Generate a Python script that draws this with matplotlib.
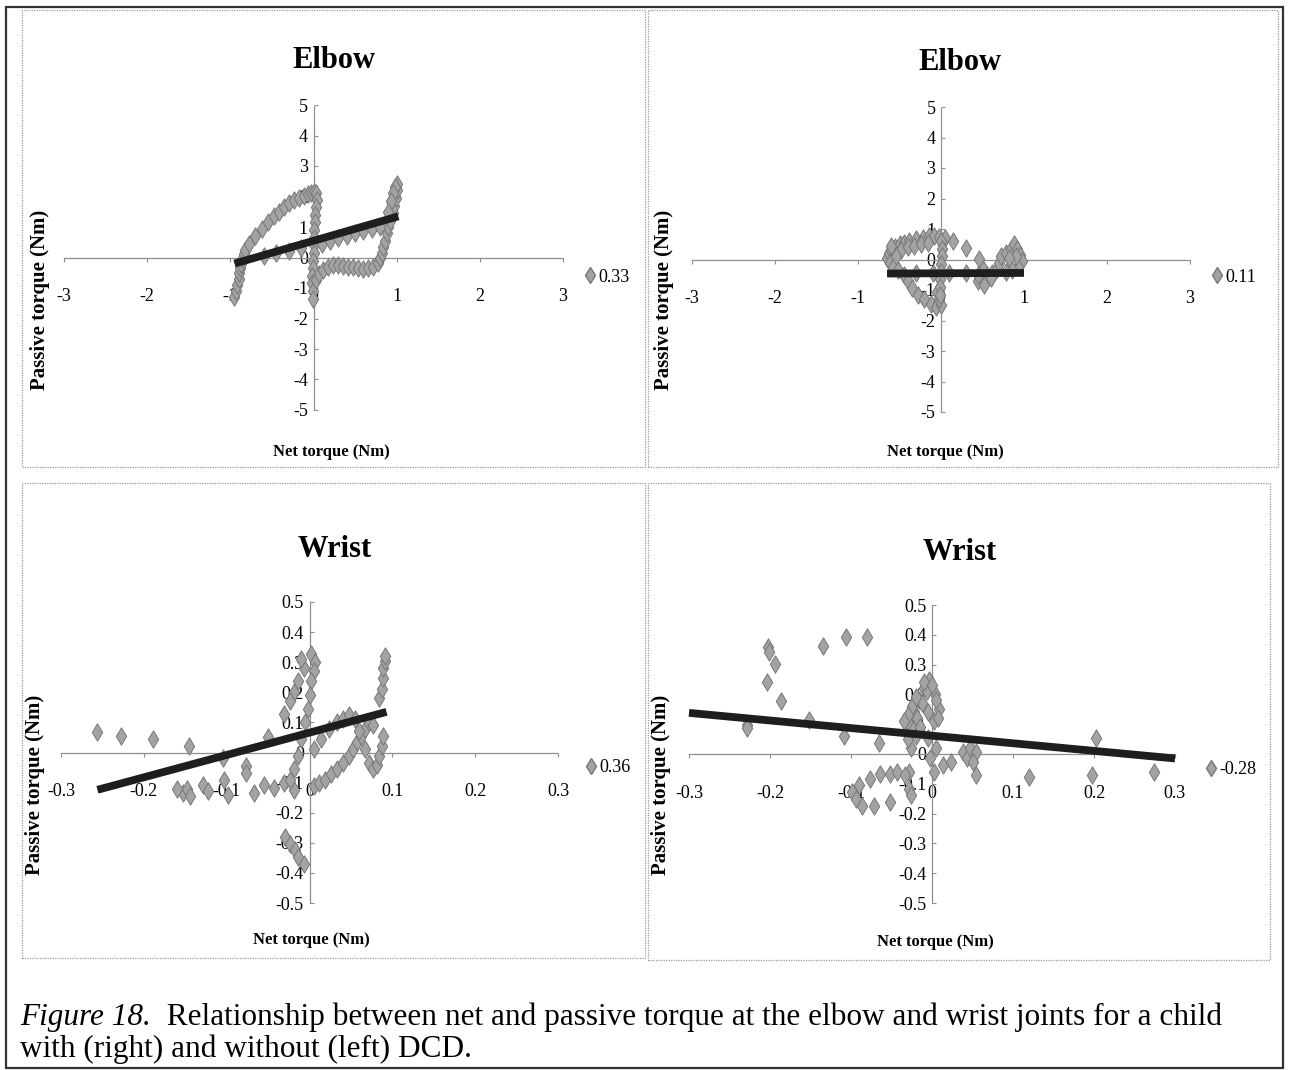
import matplotlib
matplotlib.use('Agg')
import matplotlib.pyplot as plt
from matplotlib.lines import Line2D
from matplotlib.patches import Rectangle

plt.rcParams['font.family'] = ['Liberation Serif', 'DejaVu Serif']
plt.rcParams['axes.unicode_minus'] = False

W, H = 1289, 1070
fig = plt.figure(figsize=(W / 100, H / 100), dpi=100)

# ---------------- data ----------------
titles = ['Elbow', 'Elbow', 'Wrist', 'Wrist']
legend_labels = ['0.33', '0.11', '0.36', '-0.28']
x_label = 'Net torque (Nm)'
y_label = 'Passive torque (Nm)'

elbow_ticks = [-3, -2, -1, 0, 1, 2, 3]
elbow_tick_labels = ['-3', '-2', '-1', '0', '1', '2', '3']
elbow_yticks = [-5, -4, -3, -2, -1, 0, 1, 2, 3, 4, 5]
elbow_ytick_labels = ['-5', '-4', '-3', '-2', '-1', '0', '1', '2', '3', '4', '5']
wrist_ticks = [-0.3, -0.2, -0.1, 0, 0.1, 0.2, 0.3]
wrist_tick_labels = ['-0.3', '-0.2', '-0.1', '0', '0.1', '0.2', '0.3']
wrist_yticks = [-0.5, -0.4, -0.3, -0.2, -0.1, 0, 0.1, 0.2, 0.3, 0.4, 0.5]
wrist_ytick_labels = ['-0.5', '-0.4', '-0.3', '-0.2', '-0.1', '0', '0.1', '0.2', '0.3', '0.4', '0.5']

# Elbow, without DCD (left)
elbow_nodcd_x = [-0.95, -0.93, -0.92, -0.90, -0.90, -0.88, -0.87, -0.86, -0.84, -0.82,
                 -0.78, -0.70, -0.62, -0.55, -0.48, -0.42, -0.36, -0.30, -0.24, -0.18,
                 -0.12, -0.07, -0.03, 0.00, 0.03,
                 0.04, 0.03, 0.02, 0.02, 0.01, 0.01, 0.00, 0.00, -0.01, -0.01, -0.02, -0.02, -0.01, -0.01,
                 0.03, 0.07, 0.12, 0.18, 0.24, 0.30, 0.36, 0.42, 0.48, 0.54, 0.60, 0.66, 0.72, 0.77,
                 0.80, 0.82, 0.84, 0.86, 0.88, 0.90, 0.92, 0.95, 0.97, 0.99, 1.00, 1.00, 0.98, 0.96,
                 0.93, 0.90,
                 0.10, 0.20, 0.30, 0.40, 0.50, 0.60, 0.70, 0.80,
                 -0.60, -0.45, -0.30, -0.15]
elbow_nodcd_y = [-1.30, -1.10, -0.90, -0.70, -0.50, -0.35, -0.20, -0.05, 0.10, 0.25,
                 0.45, 0.70, 0.95, 1.15, 1.35, 1.50, 1.65, 1.78, 1.88, 1.96,
                 2.02, 2.08, 2.12, 2.15, 2.10,
                 1.90, 1.65, 1.40, 1.15, 0.90, 0.65, 0.40, 0.15, -0.10, -0.35, -0.60, -0.85, -1.10, -1.35,
                 -0.75, -0.55, -0.42, -0.32, -0.26, -0.24, -0.27, -0.30, -0.32, -0.35, -0.37, -0.36, -0.30, -0.18,
                 -0.02, 0.15, 0.35, 0.55, 0.80, 1.00, 1.20, 1.45, 1.70, 1.95, 2.20, 2.40, 2.30, 2.10,
                 1.85, 1.50,
                 0.45, 0.55, 0.65, 0.72, 0.80, 0.88, 0.95, 1.00,
                 0.05, 0.15, 0.20, 0.30]
elbow_nodcd_trend_x = [-0.95, 1.02]
elbow_nodcd_trend_y = [-0.20, 1.35]

# Elbow, with DCD (right)
elbow_dcd_x = [-0.65, -0.63, -0.60, -0.62, -0.58, -0.55, -0.50, -0.52,
               -0.45, -0.38, -0.30, -0.22, -0.15, -0.08, -0.02, 0.05, 0.14, 0.30, 0.46,
               -0.45, -0.40, -0.35, -0.28, -0.20, -0.12, -0.06, 0.00, -0.03, -0.05,
               0.00, 0.01, 0.01, 0.00, 0.00, -0.01, -0.01, -0.01,
               0.50, 0.55, 0.62, 0.68, 0.70, 0.72, 0.78, 0.84, 0.88, 0.92, 0.95, 0.97, 0.93,
               0.85, 0.78, 0.90, 0.82, 0.45, 0.52, 0.60,
               -0.30, -0.10, 0.10, 0.30, 0.45,
               -0.56, -0.48, -0.40, -0.32, -0.24, -0.16, -0.60, -0.54]
elbow_dcd_y = [0.05, 0.20, 0.30, -0.10, -0.25, 0.40, 0.50, -0.35,
               0.55, 0.62, 0.68, 0.72, 0.76, 0.78, 0.75, 0.70, 0.62, 0.38, 0.02,
               -0.50, -0.70, -0.95, -1.15, -1.30, -1.45, -1.55, -1.50, -1.30, -1.05,
               0.60, 0.35, 0.10, -0.15, -0.40, -0.65, -0.90, -1.15,
               -0.30, -0.50, -0.45, -0.30, -0.10, 0.10, 0.20, 0.35, 0.50, 0.35, 0.15, -0.05, -0.25,
               -0.35, -0.40, 0.10, 0.05, -0.70, -0.85, -0.60,
               -0.45, -0.45, -0.45, -0.45, -0.50,
               0.20, 0.30, 0.40, 0.45, 0.50, 0.55, 0.45, 0.10]
elbow_dcd_trend_x = [-0.65, 1.00]
elbow_dcd_trend_y = [-0.46, -0.44]

# Wrist, without DCD (left)
wrist_nodcd_x = [-0.256, -0.227, -0.189, -0.146, -0.105, -0.077, -0.077, -0.050, -0.031,
                 -0.153, -0.148, -0.144, -0.129, -0.122, -0.103, -0.098, -0.067, -0.055, -0.043, -0.031, -0.019, -0.160,
                 -0.030, -0.024, -0.018, -0.014, -0.007,
                 -0.019, -0.014, -0.007, 0.002, 0.007, 0.005, 0.002, 0.000, -0.002, -0.005, -0.010, -0.014, -0.019, -0.024, -0.024, -0.010,
                 0.005, 0.012, 0.019, 0.026, 0.033, 0.040, 0.048, 0.052, 0.057, 0.062, 0.067, 0.072,
                 0.005, 0.014, 0.024, 0.033, 0.040, 0.048, 0.055,
                 0.067, 0.072, 0.077, 0.081, 0.084, 0.087, 0.089, 0.084, 0.087, 0.089, 0.089, 0.091, 0.091, 0.077, 0.060]
wrist_nodcd_y = [0.067, 0.056, 0.045, 0.022, -0.017, -0.045, -0.067, 0.050, 0.129,
                 -0.135, -0.120, -0.146, -0.107, -0.129, -0.090, -0.140, -0.135, -0.107, -0.118, -0.100, -0.124, -0.120,
                 -0.280, -0.303, -0.325, -0.348, -0.371,
                 0.200, 0.236, 0.280, 0.326, 0.300, 0.270, 0.236, 0.190, 0.146, 0.100, 0.045, -0.011, -0.056, -0.090, 0.170, 0.310,
                 -0.112, -0.100, -0.090, -0.073, -0.056, -0.035, -0.011, 0.012, 0.034, 0.056, 0.079, 0.100,
                 0.011, 0.045, 0.079, 0.100, 0.112, 0.124, 0.110,
                 0.011, -0.034, -0.056, -0.040, -0.011, 0.020, 0.056, 0.180, 0.210, 0.247, 0.280, 0.303, 0.320, 0.090, 0.070]
wrist_nodcd_trend_x = [-0.256, 0.093]
wrist_nodcd_trend_y = [-0.124, 0.135]

# Wrist, with DCD (right)
wrist_dcd_x = [-0.202, -0.201, -0.194, -0.204, -0.187, -0.229, -0.229, -0.152, -0.135, -0.106, -0.080,
               -0.109, -0.065, -0.026, -0.028,
               -0.076, -0.064, -0.052, -0.043, -0.033, -0.028, -0.026,
               -0.090, -0.099, -0.094, -0.087, -0.071, -0.052,
               -0.028, -0.022, -0.016, -0.010, -0.004, 0.004, 0.009, -0.024, -0.018, -0.012, -0.006, 0.002,
               -0.005, 0.005, -0.002, 0.002, 0.014, 0.024,
               0.038, 0.043, 0.047, 0.054, 0.050, 0.054,
               0.120, 0.197, 0.203, 0.274,
               -0.030, -0.020, -0.015, -0.025, -0.020, -0.010, 0.000, 0.005, 0.008, -0.005, -0.030, -0.035]
wrist_dcd_y = [0.359, 0.342, 0.302, 0.240, 0.178, 0.098, 0.087, 0.115, 0.364, 0.393, 0.393,
               0.059, 0.036, 0.019, -0.060,
               -0.083, -0.066, -0.066, -0.060, -0.071, -0.117, -0.139,
               -0.105, -0.128, -0.150, -0.173, -0.173, -0.162,
               0.100, 0.140, 0.180, 0.220, 0.250, 0.200, 0.150, 0.080, 0.120, 0.170, 0.210, 0.110,
               0.053, 0.019, -0.015, -0.060, -0.037, -0.026,
               0.008, -0.015, 0.019, 0.008, -0.026, -0.071,
               -0.077, -0.071, 0.053, -0.060,
               0.050, 0.060, 0.090, 0.160, 0.190, 0.240, 0.230, 0.180, 0.120, 0.140, 0.130, 0.110]
wrist_dcd_trend_x = [-0.30, 0.30]
wrist_dcd_trend_y = [0.138, -0.015]

caption_italic = 'Figure 18.'
caption_line1 = '  Relationship between net and passive torque at the elbow and wrist joints for a child'
caption_line2 = 'with (right) and without (left) DCD.'

# ---------------- layout ----------------
def add_axes_px(x0, x1, ytop, ybot):
    return fig.add_axes([x0 / W, 1 - ybot / H, (x1 - x0) / W, (ybot - ytop) / H])


def box_px(x0, y0, x1, y1, **kw):
    fig.patches.append(Rectangle((x0 / W, 1 - y1 / H), (x1 - x0) / W, (y1 - y0) / H,
                                 transform=fig.transFigure, fill=False, **kw))


# outer frame and panel frames
box_px(6, 7, 1283, 1068, edgecolor='#333333', linewidth=1.6)
for (a, b, c, d) in [(22, 10, 645, 467), (648, 10, 1278, 467), (22, 483, 645, 958), (648, 483, 1270, 960)]:
    box_px(a, b, c, d, edgecolor='#9a9a9a', linewidth=0.9, linestyle=(0, (1, 1)))


def draw_panel(ax, xs, ys, tx, ty, xlim, ylim, xt, xtl, yt, ytl, leg, leg_xy, title, title_xy, xl_xy, yl_xy):
    ax.set_xlim(xlim)
    ax.set_ylim(ylim)
    ax.patch.set_alpha(0)
    for s in ['top', 'right']:
        ax.spines[s].set_visible(False)
    for s in ['left', 'bottom']:
        ax.spines[s].set_position(('data', 0))
        ax.spines[s].set_linestyle((0, (1, 1)))
        ax.spines[s].set_color('#8f8f8f')
        ax.spines[s].set_linewidth(0.9)
    ax.set_xticks(xt)
    ax.set_xticklabels(xtl)
    ax.set_yticks(yt)
    ax.set_yticklabels(ytl)
    ax.tick_params(axis='x', direction='out', length=3, width=0.8, color='#8f8f8f', pad=19, labelsize=13)
    ax.tick_params(axis='y', direction='in', length=3, width=0.8, color='#8f8f8f', pad=4, labelsize=13)
    ax.scatter(xs, ys, marker='d', s=78, facecolor='#a3a3a3', edgecolor='#777777',
               linewidth=0.7, zorder=3, clip_on=False)
    ax.plot(tx, ty, color='#1e1e1e', lw=5.6, solid_capstyle='butt', zorder=4, clip_on=False)
    h = Line2D([], [], marker='d', ms=8, linestyle='none', markerfacecolor='#a3a3a3', markeredgecolor='#777777')
    fig.legend([h], [leg], loc='center left', bbox_to_anchor=(leg_xy[0] / W, 1 - leg_xy[1] / H),
               bbox_transform=fig.transFigure, frameon=False, handlelength=0.6, handletextpad=0.15,
               borderpad=0, borderaxespad=0, fontsize=13)
    fig.text(title_xy[0] / W, 1 - title_xy[1] / H, title, ha='center', va='center',
             fontsize=22, fontweight='bold')
    fig.text(xl_xy[0] / W, 1 - xl_xy[1] / H, x_label, ha='center', va='center',
             fontsize=12, fontweight='bold')
    fig.text(yl_xy[0] / W, 1 - yl_xy[1] / H, y_label, ha='center', va='center', rotation=90,
             fontsize=15, fontweight='bold')


ax1 = add_axes_px(64, 563, 105, 410)
draw_panel(ax1, elbow_nodcd_x, elbow_nodcd_y, elbow_nodcd_trend_x, elbow_nodcd_trend_y,
           (-3, 3), (-5, 5), elbow_ticks, elbow_tick_labels, elbow_yticks, elbow_ytick_labels,
           legend_labels[0], (585, 277), titles[0], (334, 60), (331, 452), (40, 300))

ax2 = add_axes_px(692, 1190, 107, 412)
draw_panel(ax2, elbow_dcd_x, elbow_dcd_y, elbow_dcd_trend_x, elbow_dcd_trend_y,
           (-3, 3), (-5, 5), elbow_ticks, elbow_tick_labels, elbow_yticks, elbow_ytick_labels,
           legend_labels[1], (1212, 277), titles[1], (960, 62), (945, 452), (664, 300))

ax3 = add_axes_px(61, 558, 602, 903)
draw_panel(ax3, wrist_nodcd_x, wrist_nodcd_y, wrist_nodcd_trend_x, wrist_nodcd_trend_y,
           (-0.3, 0.3), (-0.5, 0.5), wrist_ticks, wrist_tick_labels, wrist_yticks, wrist_ytick_labels,
           legend_labels[2], (586, 768), titles[2], (335, 550), (311, 940), (35, 785))

ax4 = add_axes_px(689, 1175, 605, 903)
draw_panel(ax4, wrist_dcd_x, wrist_dcd_y, wrist_dcd_trend_x, wrist_dcd_trend_y,
           (-0.3, 0.3), (-0.5, 0.5), wrist_ticks, wrist_tick_labels, wrist_yticks, wrist_ytick_labels,
           legend_labels[3], (1206, 770), titles[3], (960, 552), (935, 942), (661, 785))

# caption
renderer = fig.canvas.get_renderer()
t1 = fig.text(20 / W, 1 - 1017 / H, caption_italic, ha='left', va='center', fontsize=22.5, fontstyle='italic')
bb = t1.get_window_extent(renderer)
fig.text(bb.x1 / W, 1 - 1017 / H, caption_line1, ha='left', va='center', fontsize=22.5)
fig.text(20 / W, 1 - 1049 / H, caption_line2, ha='left', va='center', fontsize=22.5)

fig.savefig('out.png', dpi=100)
